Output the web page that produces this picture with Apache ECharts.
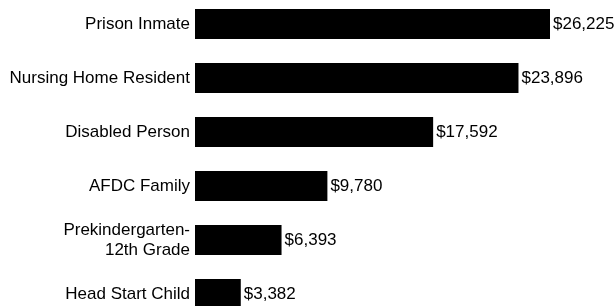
<!DOCTYPE html>
<html>
<head>
<meta charset="utf-8">
<script src="https://cdn.jsdelivr.net/npm/echarts@6/dist/echarts.min.js"></script>
<style>
  html, body { margin: 0; padding: 0; background: #fff; }
  #graph_1 { width: 616px; height: 306px; }
</style>
</head>
<body>
<div id="graph_1"></div>
<script>
// spending per person, top to bottom
var categories = ['Prison Inmate', 'Nursing Home Resident', 'Disabled Person', 'AFDC Family', 'Prekindergarten-\n12th Grade', 'Head Start Child'];
var values = [26225, 23896, 17592, 9780, 6393, 3382];

var myChart = echarts.init(document.getElementById('graph_1'));

var option = {
    backgroundColor: '#fff',
    animation: false,
    grid: {
        left: 195,
        width: 421,
        top: -3,
        height: 324,
        outerBoundsMode: 'none'
    },
    xAxis: {
        type: 'value',
        min: 0,
        max: 31100,
        show: false
    },
    yAxis: {
        type: 'category',
        data: categories,
        inverse: true,
        axisLine: { show: false },
        axisTick: { show: false },
        axisLabel: {
            color: '#000',
            fontFamily: 'Liberation Sans, Arial, sans-serif',
            fontSize: 17,
            lineHeight: 20,
            margin: 5,
            align: 'right'
        }
    },
    series: [
        {
            type: 'bar',
            data: values,
            barWidth: 30,
            itemStyle: {
                color: '#000'
            },
            label: {
                show: true,
                position: 'right',
                distance: 3,
                color: '#000',
                fontFamily: 'Liberation Sans, Arial, sans-serif',
                fontSize: 17,
                formatter: function (p) {
                    return '$' + p.value.toLocaleString('en-US');
                }
            }
        }
    ]
};

myChart.setOption(option);
</script>
</body>
</html>
